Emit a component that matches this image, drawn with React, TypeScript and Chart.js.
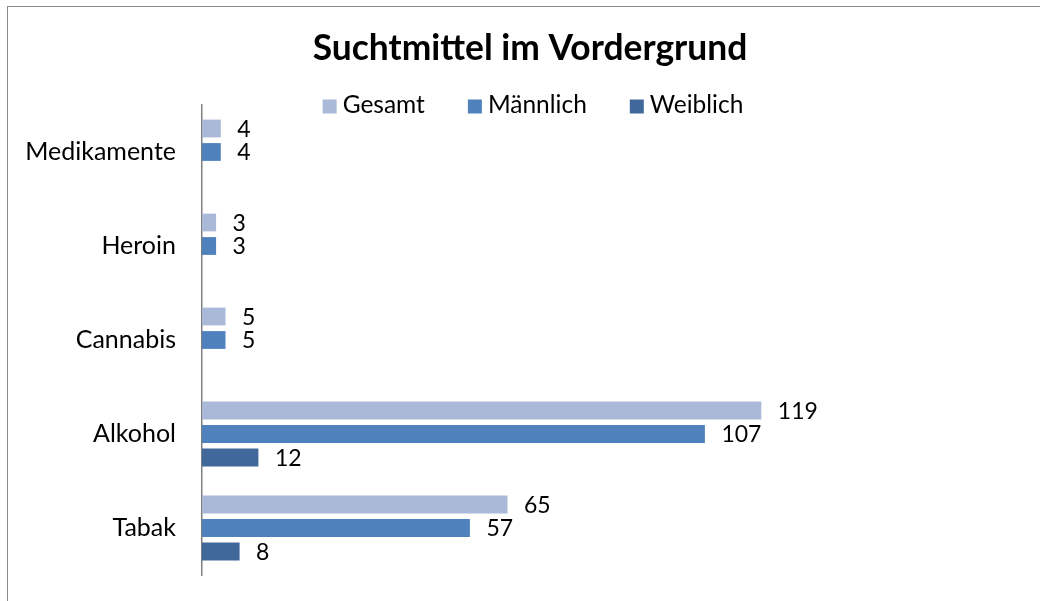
import React, { useEffect, useRef } from "react";
import { Chart, registerables } from "chart.js";

Chart.register(...registerables);

// ---- data ----
const categories = ["Medikamente", "Heroin", "Cannabis", "Alkohol", "Tabak"];
const seriesNames = ["Gesamt", "Männlich", "Weiblich"];
const gesamt = [4, 3, 5, 119, 65];
const maennlich = [4, 3, 5, 107, 57];
const weiblich: (number | null)[] = [null, null, null, 12, 8];
const titleText = "Suchtmittel im Vordergrund";
const xMax = 140;

// ---- style ----
const seriesColors = ["#AAB9D7", "#4F81BD", "#41689B"];
const FONT = "Lato, Carlito, 'DejaVu Sans', sans-serif";
const CAT_SIZE = 25;
const VALUE_SIZE = 23;
const LEGEND_SIZE = 24.5;
const TITLE_SIZE = 35.4;
const W = 1040;
const H = 601;

const overlayPlugin = {
  id: "overlay",
  afterDatasetsDraw(chart: any) {
    const ctx = chart.ctx;
    ctx.save();
    ctx.fillStyle = "#000";
    ctx.font = `${VALUE_SIZE}px ${FONT}`;
    ctx.textAlign = "left";
    ctx.textBaseline = "alphabetic";
    chart.data.datasets.forEach((ds: any, di: number) => {
      const meta = chart.getDatasetMeta(di);
      meta.data.forEach((bar: any, i: number) => {
        const v = ds.data[i];
        if (v === null || v === undefined) return;
        ctx.fillText(String(v), bar.x + 16.5, bar.y + 8.2);
      });
    });
    ctx.restore();
  },
  afterDraw(chart: any) {
    const ctx = chart.ctx;
    ctx.save();
    ctx.fillStyle = "#000";
    // title
    ctx.font = `bold ${TITLE_SIZE}px ${FONT}`;
    ctx.textAlign = "center";
    ctx.textBaseline = "alphabetic";
    ctx.fillText(titleText, 530, 60);
    // legend
    ctx.font = `${LEGEND_SIZE}px ${FONT}`;
    ctx.textAlign = "left";
    const box = 14;
    const gap = 6;
    const spacing = 43;
    const items = chart.data.datasets.map((d: any) => ({
      label: d.label,
      color: d.backgroundColor,
      w: ctx.measureText(d.label).width,
    }));
    const total =
      items.reduce((a: number, it: any) => a + box + gap + it.w, 0) +
      spacing * (items.length - 1);
    let x = 533 - total / 2;
    items.forEach((it: any) => {
      ctx.fillStyle = it.color;
      ctx.fillRect(x, 99.5, box, box);
      ctx.fillStyle = "#000";
      ctx.fillText(it.label, x + box + gap, 113.3);
      x += box + gap + it.w + spacing;
    });
    ctx.restore();
  },
};

export default function App() {
  const canvasRef = useRef<HTMLCanvasElement | null>(null);

  useEffect(() => {
    if (!canvasRef.current) return;
    const data = [gesamt, maennlich, weiblich];
    const chart = new Chart(canvasRef.current, {
      type: "bar",
      data: {
        labels: categories,
        datasets: seriesNames.map((name, i) => ({
          label: name,
          data: data[i] as any,
          backgroundColor: seriesColors[i],
          borderWidth: 0,
          categoryPercentage: 0.75,
          barPercentage: 0.757,
        })),
      },
      options: {
        indexAxis: "y",
        animation: false,
        responsive: false,
        maintainAspectRatio: false,
        devicePixelRatio: 1,
        layout: { padding: { top: 105, bottom: 26, right: 180, left: 0 } },
        plugins: {
          legend: { display: false },
          title: { display: false },
          tooltip: { enabled: false },
        },
        scales: {
          x: { display: false, min: 0, max: xMax },
          y: {
            grid: { display: false, drawTicks: false },
            border: { display: true, color: "#7F7F7F", width: 1.5 },
            ticks: {
              color: "#000",
              font: { family: FONT, size: CAT_SIZE },
              padding: 26,
            },
            afterFit(scale: any) {
              scale.width = 202;
              scale.paddingTop = 0;
              scale.paddingBottom = 0;
            },
          },
        },
      },
      plugins: [overlayPlugin],
    });
    return () => chart.destroy();
  }, []);

  return (
    <div
      style={{
        position: "fixed",
        left: 0,
        top: 0,
        width: W,
        height: H,
        overflow: "hidden",
        background: "#fff",
      }}
    >
      <div
        style={{
          position: "absolute",
          left: 7,
          top: 6,
          width: 1200,
          height: 800,
          border: "1px solid #8A8A8A",
          boxSizing: "border-box",
        }}
      />
      <canvas
        ref={canvasRef}
        width={W}
        height={H}
        style={{ position: "absolute", left: 0, top: 0, width: W, height: H }}
      />
    </div>
  );
}
